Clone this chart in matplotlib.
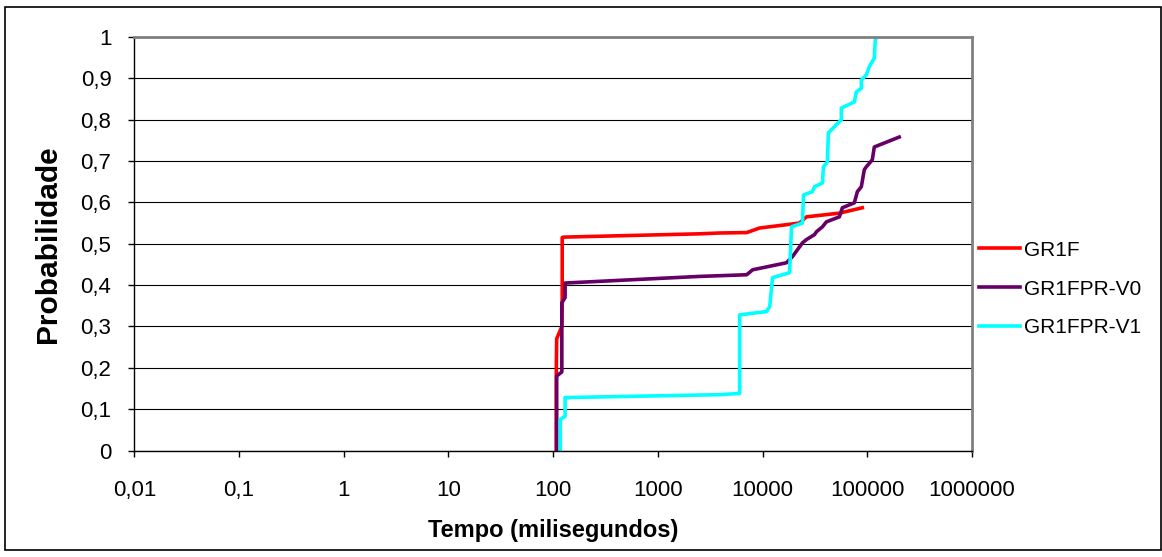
import matplotlib
matplotlib.use("Agg")
import matplotlib.pyplot as plt
from matplotlib.patches import Rectangle
from matplotlib.ticker import FixedLocator, FuncFormatter, NullLocator

plt.rcParams["font.family"] = ["Liberation Sans", "DejaVu Sans"]

# tempo (ms) x probabilidade acumulada
gr1f_t = [107, 107, 108, 121, 122, 122, 125, 2500, 3900, 7050, 9350, 22500, 26200, 54100, 89600]
gr1f_p = [0, 0.18, 0.27, 0.30, 0.37, 0.515, 0.516, 0.524, 0.526, 0.527, 0.538, 0.55, 0.565, 0.574, 0.587]

v0_t = [108, 108, 121, 121, 130, 130, 2500, 7050, 8030, 16900, 19300, 24000, 26200, 31300,
        32700, 37300, 40700, 54100, 57800, 75200, 80400, 87700, 93600, 97800, 111600, 116700, 201700]
v0_p = [0, 0.18, 0.19, 0.357, 0.37, 0.405, 0.421, 0.425, 0.437, 0.454, 0.469, 0.502, 0.51, 0.522,
        0.529, 0.541, 0.553, 0.565, 0.587, 0.599, 0.626, 0.638, 0.679, 0.686, 0.703, 0.734, 0.758]

v1_t = [117, 117, 130, 130, 3900, 6040, 6040, 10900, 11700, 12450, 18100, 18900, 24000, 24600,
        29900, 31300, 37300, 38100, 41600, 42500, 48500, 56500, 56500, 75200, 78600, 87700, 87700,
        97800, 104400, 116700, 119200, 124500]
v1_p = [0, 0.075, 0.083, 0.128, 0.135, 0.138, 0.328, 0.336, 0.348, 0.418, 0.43, 0.541, 0.55, 0.618,
        0.626, 0.638, 0.647, 0.686, 0.698, 0.768, 0.783, 0.8, 0.828, 0.843, 0.867, 0.876, 0.896,
        0.908, 0.928, 0.949, 0.993, 1.0]

series = [
    ("GR1F", gr1f_t, gr1f_p, "#FF0000"),
    ("GR1FPR-V0", v0_t, v0_p, "#660066"),
    ("GR1FPR-V1", v1_t, v1_p, "#00FFFF"),
]

x_ticks = [0.01, 0.1, 1, 10, 100, 1000, 10000, 100000, 1000000]
x_labels = ["0,01", "0,1", "1", "10", "100", "1000", "10000", "100000", "1000000"]
y_ticks = [0, 0.1, 0.2, 0.3, 0.4, 0.5, 0.6, 0.7, 0.8, 0.9, 1.0]

fig = plt.figure(figsize=(11.62, 5.57), dpi=100)
ax = fig.add_axes([0.1156, 0.1912, 0.7209, 0.7424])

for name, t, p, color in series:
    ax.plot(t, p, color=color, lw=2.6, label=name, solid_joinstyle="round")

ax.set_xscale("log")
ax.set_xlim(0.01, 1000000)
ax.set_ylim(0, 1)

ax.xaxis.set_major_locator(FixedLocator(x_ticks))
ax.xaxis.set_minor_locator(NullLocator())
ax.set_xticklabels(x_labels)
ax.set_yticks(y_ticks)
ax.yaxis.set_major_formatter(FuncFormatter(lambda v, _: ("%g" % v).replace(".", ",")))

ax.tick_params(axis="both", direction="out", length=4.5, width=1, color="black",
               labelsize=16)
ax.tick_params(axis="x", pad=17)
ax.tick_params(axis="y", pad=12)
ax.grid(axis="y", color="black", lw=0.8)
ax.set_axisbelow(True)

for side in ("left", "bottom"):
    ax.spines[side].set_color("black")
    ax.spines[side].set_linewidth(1)
for side in ("top", "right"):
    ax.spines[side].set_color("#808080")
    ax.spines[side].set_linewidth(2)

ax.set_xlabel("Tempo (milisegundos)", fontsize=17, fontweight="bold", labelpad=13)
ax.set_ylabel("Probabilidade", fontsize=21.5, fontweight="bold", labelpad=13)

fig.legend(loc="center left", bbox_to_anchor=(0.8425, 0.481), frameon=False,
           fontsize=15, handlelength=1.97, handletextpad=0.2, labelspacing=0.95,
           borderpad=0, borderaxespad=0)

# moldura externa do grafico
fig.patches.append(Rectangle((0.0045, 0.012), 0.995, 0.976, transform=fig.transFigure,
                             fill=False, edgecolor="black", lw=1.2))

fig.savefig("out.png", dpi=100)
